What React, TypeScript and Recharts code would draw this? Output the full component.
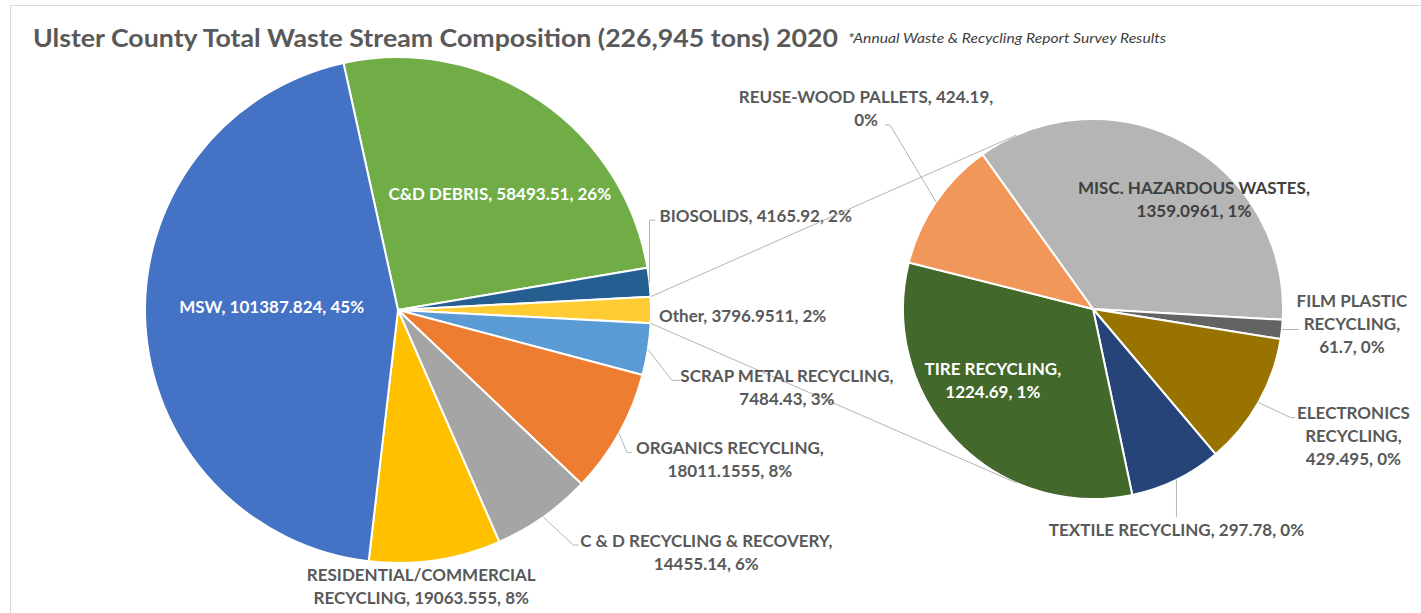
import React from "react";
import { PieChart, Pie, Cell } from "recharts";

// main pie, clockwise from the top boundary with MSW
const mainNames = [
  "C&D DEBRIS",
  "BIOSOLIDS",
  "Other",
  "SCRAP METAL RECYCLING",
  "ORGANICS RECYCLING",
  "C & D RECYCLING & RECOVERY",
  "RESIDENTIAL/COMMERCIAL RECYCLING",
  "MSW",
];
const mainValues = [58493.51, 4165.92, 3796.9511, 7484.43, 18011.1555, 14455.14, 19063.555, 101387.824];
const mainColors = ["#70AD47", "#255E91", "#FFCD33", "#5B9BD5", "#ED7D31", "#A5A5A5", "#FFC000", "#4472C4"];

// breakdown of "Other"
const subNames = [
  "MISC. HAZARDOUS WASTES",
  "FILM PLASTIC RECYCLING",
  "ELECTRONICS RECYCLING",
  "TEXTILE RECYCLING",
  "TIRE RECYCLING",
  "REUSE-WOOD PALLETS",
];
const subValues = [1359.0961, 61.7, 429.495, 297.78, 1224.69, 424.19];
const subColors = ["#B5B5B5", "#636363", "#997300", "#264478", "#43682B", "#F1975A"];

const TITLE = "Ulster County Total Waste Stream Composition (226,945 tons) 2020";
const SUBTITLE = "*Annual Waste & Recycling Report Survey Results";

const W = 1421;
const H = 613;
const MAIN = { cx: 398, cy: 310, r: 253 };
const SUB = { cx: 1093, cy: 309, r: 190, start: 125.6 };
const FONT = "Lato, 'Open Sans', sans-serif";
const LABEL_GRAY = "#595959";
const LINE_GRAY = "#b4b4b4";

const grandTotal = mainValues.reduce((a, b) => a + b, 0);
const otherIdx = mainNames.indexOf("Other");
// Other slice centred on the horizontal, like Excel's pie-of-pie
const mainStart =
  ((mainValues.slice(0, otherIdx).reduce((a, b) => a + b, 0) + mainValues[otherIdx] / 2) / grandTotal) * 360;

const mainData = mainNames.map((name, i) => ({ name, value: mainValues[i] }));
const subData = subNames.map((name, i) => ({ name, value: subValues[i] }));

type Layout = {
  k: number;
  dx: number;
  dy: number;
  anchor: "start" | "middle" | "end";
  wrap: number;
  fill?: string;
  line?: [number, number][];
};

const labelLayout: Record<string, Layout> = {
  MSW: { k: 0.5, dx: 0, dy: -10, anchor: "middle", wrap: 99, fill: "#fff" },
  "C&D DEBRIS": { k: 0.6, dx: 17, dy: 9, anchor: "middle", wrap: 99, fill: "#fff" },
  BIOSOLIDS: { k: 1, dx: 10, dy: -67, anchor: "start", wrap: 99, line: [[0, -62], [6, -62]] },
  Other: { k: 1, dx: 8, dy: 5, anchor: "start", wrap: 99 },
  "SCRAP METAL RECYCLING": { k: 1, dx: 139, dy: 26, anchor: "middle", wrap: 22, line: [[24, 31], [32, 31]] },
  "ORGANICS RECYCLING": { k: 1, dx: 111, dy: 14, anchor: "middle", wrap: 20, line: [[8, 19], [13, 19]] },
  "C & D RECYCLING & RECOVERY": { k: 1, dx: 163, dy: 23, anchor: "middle", wrap: 28, line: [[30, 28], [35, 28]] },
  "RESIDENTIAL/COMMERCIAL RECYCLING": { k: 1, dx: -14, dy: 14, anchor: "middle", wrap: 24 },
  "MISC. HAZARDOUS WASTES": { k: 0.6, dx: 46, dy: -22, anchor: "middle", wrap: 23, fill: "#404040" },
  "FILM PLASTIC RECYCLING": { k: 1, dx: 70, dy: -29, anchor: "middle", wrap: 12, line: [[17, 0]] },
  "ELECTRONICS RECYCLING": { k: 1, dx: 95, dy: 10.5, anchor: "middle", wrap: 12, line: [[32, 15], [37, 15]] },
  "TEXTILE RECYCLING": { k: 1, dx: 0, dy: 50, anchor: "middle", wrap: 99, line: [[0, 37]] },
  "TIRE RECYCLING": { k: 0.6, dx: -18, dy: -20, anchor: "middle", wrap: 15, fill: "#fff" },
  "REUSE-WOOD PALLETS": { k: 1, dx: -70, dy: -105, anchor: "middle", wrap: 27, line: [[-46, -77], [-51, -77]] },
};

const RAD = Math.PI / 180;
const polar = (cx: number, cy: number, r: number, a: number) => ({
  x: cx + r * Math.cos(-a * RAD),
  y: cy + r * Math.sin(-a * RAD),
});

function wrapText(s: string, max: number) {
  const words = s.split(" ");
  const lines: string[] = [];
  let cur = "";
  for (const w of words) {
    if (cur && (cur + " " + w).length > max) {
      lines.push(cur);
      cur = w;
    } else cur = cur ? cur + " " + w : w;
  }
  if (cur) lines.push(cur);
  return lines;
}

// tangent from point p to the secondary pie
function tangent(p: { x: number; y: number }, upper: boolean) {
  const vx = p.x - SUB.cx;
  const vy = p.y - SUB.cy;
  const d = Math.hypot(vx, vy);
  const base = Math.atan2(vy, vx);
  const alpha = Math.acos(SUB.r / d);
  let a = upper ? base + alpha : base - alpha;
  if (upper && base > 0) a = base - 2 * Math.PI + alpha;
  return { x: SUB.cx + SUB.r * Math.cos(a), y: SUB.cy + SUB.r * Math.sin(a) };
}

function renderLabel(props: any) {
  const { cx, cy, outerRadius, midAngle, name, value, startAngle, endAngle } = props;
  const lay = labelLayout[name];
  if (!lay) return null;
  const pct = Math.round((value / grandTotal) * 100);
  const lines = wrapText(`${name}, ${value}, ${pct}%`, lay.wrap);
  const edge = polar(cx, cy, outerRadius, midAngle);
  const base = polar(cx, cy, outerRadius * lay.k, midAngle);
  const tx = base.x + lay.dx;
  const ty = base.y + lay.dy;
  let connectors = null;
  if (name === "Other") {
    const a = polar(cx, cy, outerRadius, startAngle);
    const b = polar(cx, cy, outerRadius, endAngle);
    const ta = tangent(a, true);
    const tb = tangent(b, false);
    connectors = (
      <g>
        <line x1={a.x} y1={a.y} x2={ta.x} y2={ta.y} stroke={LINE_GRAY} strokeWidth={1} />
        <line x1={b.x} y1={b.y} x2={tb.x} y2={tb.y} stroke={LINE_GRAY} strokeWidth={1} />
      </g>
    );
  }
  const pts = lay.line ? [edge, ...lay.line.map(([ox, oy]) => ({ x: edge.x + ox, y: edge.y + oy }))] : null;
  return (
    <g key={`lbl-${name}`}>
      {connectors}
      {pts && (
        <polyline
          points={pts.map((p) => `${p.x},${p.y}`).join(" ")}
          fill="none"
          stroke={LINE_GRAY}
          strokeWidth={1}
        />
      )}
      {lines.map((ln, i) => (
        <text
          key={i}
          x={tx}
          y={ty + i * 23}
          textAnchor={lay.anchor}
          dominantBaseline="central"
          fontFamily={FONT}
          fontWeight={700}
          fontSize={17}
          fill={lay.fill ?? LABEL_GRAY}
        >
          {ln}
        </text>
      ))}
    </g>
  );
}

export default function App() {
  return (
    <div style={{ position: "absolute", left: 0, top: 0, width: W, height: H, overflow: "hidden", background: "#fff" }}>
      <svg width={W} height={H} style={{ position: "absolute", left: 0, top: 0 }}>
        <rect x={10.5} y={5.5} width={W + 20} height={H + 20} fill="#fff" stroke="#d9d9d9" strokeWidth={1} />
        <text x={33} y={47} fontFamily={FONT} fontWeight={700} fontSize={25} fill={LABEL_GRAY} textLength={805} lengthAdjust="spacingAndGlyphs">
          {TITLE}
        </text>
        <text x={848} y={42.5} fontFamily={FONT} fontStyle="italic" fontSize={13} fill="#404040" textLength={318} lengthAdjust="spacingAndGlyphs">
          {SUBTITLE}
        </text>
      </svg>
      <div style={{ position: "absolute", left: 0, top: 0 }}>
        <PieChart width={W} height={H} margin={{ top: 0, right: 0, bottom: 0, left: 0 }}>
          <Pie
            data={mainData}
            dataKey="value"
            nameKey="name"
            cx={MAIN.cx}
            cy={MAIN.cy}
            outerRadius={MAIN.r}
            startAngle={mainStart}
            endAngle={mainStart - 360}
            stroke="#fff"
            strokeWidth={2}
            label={renderLabel}
            labelLine={false}
            isAnimationActive={false}
          >
            {mainData.map((d, i) => (
              <Cell key={d.name} fill={mainColors[i]} />
            ))}
          </Pie>
          <Pie
            data={subData}
            dataKey="value"
            nameKey="name"
            cx={SUB.cx}
            cy={SUB.cy}
            outerRadius={SUB.r}
            startAngle={SUB.start}
            endAngle={SUB.start - 360}
            stroke="#fff"
            strokeWidth={2}
            label={renderLabel}
            labelLine={false}
            isAnimationActive={false}
          >
            {subData.map((d, i) => (
              <Cell key={d.name} fill={subColors[i]} />
            ))}
          </Pie>
        </PieChart>
      </div>
    </div>
  );
}
